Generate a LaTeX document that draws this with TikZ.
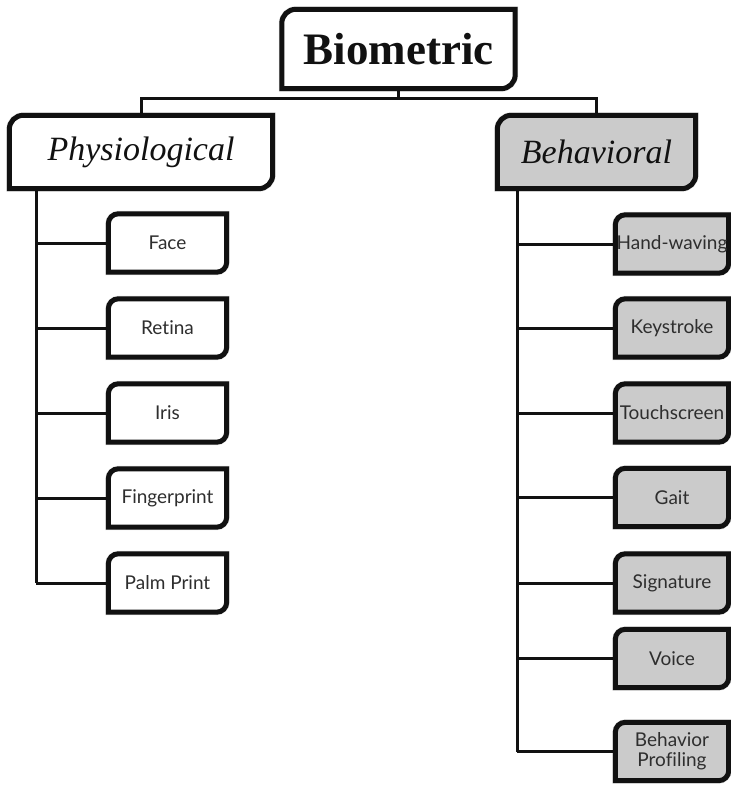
\documentclass[tikz,border=0pt]{standalone}
\usepackage{fontspec}
\setmainfont{Liberation Serif}
\newfontfamily\leaffont[Ligatures=NoCommon]{Lato}
\pgfdeclarelayer{back}
\pgfsetlayers{back,main}
\definecolor{boxgrey}{HTML}{CBCBCB}
\definecolor{labelgrey}{HTML}{2E2E2E}
\definecolor{ink}{HTML}{111111}

% box outline: square top-right / bottom-left, rounded top-left / bottom-right
\newcommand\diagpath[2]{%
  (#1.north east) -- ([yshift=#2]#1.south east)
    arc[start angle=0, end angle=-90, radius=#2] -- (#1.south west)
    -- ([yshift=-#2]#1.north west)
    arc[start angle=180, end angle=90, radius=#2] -- cycle}
\newcommand\diagbox[3]{%
  \path[boxshadow] [shift={(1.5,3)}] \diagpath{#1}{#2};
  \path[boxline, fill=#3] \diagpath{#1}{#2};}

\tikzset{
  topbox/.style={inner sep=0pt, minimum width=233pt, minimum height=79pt,
    font=\fontsize{45}{50}\selectfont\bfseries, text=ink},
  groupbox/.style={inner sep=0pt, minimum height=73pt,
    font=\fontsize{34}{40}\selectfont\itshape, text=ink},
  leafbox/.style={inner sep=0pt, minimum width=118pt, minimum height=58pt,
    font=\leaffont\fontsize{19}{20}\selectfont, text=labelgrey, align=center},
  rleafbox/.style={leafbox, minimum width=113pt},
  conn/.style={line width=3pt, draw=ink},
  boxline/.style={line width=5pt, draw=ink, line join=miter},
  boxshadow/.style={line width=6pt, draw=black, draw opacity=0.12},
}

\begin{document}
\begin{tikzpicture}[x=1pt, y=-1pt]
\useasboundingbox (0,0) rectangle (730,786);

% tree nodes
\node[topbox] (bio) at (398.5,49) {Biometric};
\node[groupbox, minimum width=263pt] (phys) at (141,152) {Physiological};
\node[groupbox, minimum width=198pt] (beh) at (596.5,152) {Behavioral};

\node[leafbox] (face)   at (167.5,243) {Face};
\node[leafbox] (retina) at (167.5,328) {Retina};
\node[leafbox] (iris)   at (167.5,413) {Iris};
\node[leafbox] (finger) at (167.5,498) {Fingerprint};
\node[leafbox] (palm)   at (167.5,583) {Palm Print};

\node[rleafbox] (hand)  at (672,244)   {Hand-waving};
\node[rleafbox] (key)   at (672,328)   {Keystroke};
\node[rleafbox] (touch) at (672,413)   {Touchscreen};
\node[rleafbox] (gait)  at (672,497.5) {Gait};
\node[rleafbox] (sign)  at (672,583)   {Signature};
\node[rleafbox] (voice) at (672,658.5) {Voice};
\node[rleafbox] (prof)  at (672,751.5) {Behavior\\Profiling};

% trunk and bar positions
\coordinate (hbar) at (0,99);
\coordinate (ltrunk) at (36,0);
\coordinate (rtrunk) at (517,0);

\begin{pgfonlayer}{back}
  % top bar
  \draw[conn] (bio.south) -- (bio.south |- hbar);
  \draw[conn] (phys.north) -- (phys.north |- hbar) -- (beh.north |- hbar) -- (beh.north);
  % left trunk and branches
  \draw[conn] (phys.south -| ltrunk) -- (palm.west -| ltrunk);
  \foreach \n in {face,retina,iris,finger,palm}
    \draw[conn] (\n.west -| ltrunk) -- (\n.west);
  % right trunk and branches
  \draw[conn] (beh.south -| rtrunk) -- (prof.west -| rtrunk);
  \foreach \n in {hand,key,touch,gait,sign,voice,prof}
    \draw[conn] (\n.west -| rtrunk) -- (\n.west);
  % boxes
  \diagbox{bio}{14pt}{white}
  \diagbox{phys}{14pt}{white}
  \diagbox{beh}{14pt}{boxgrey}
  \foreach \n in {face,retina,iris,finger,palm}
    {\diagbox{\n}{10pt}{white}}
  \foreach \n in {hand,key,touch,gait,sign,voice,prof}
    {\diagbox{\n}{10pt}{boxgrey}}
\end{pgfonlayer}
\end{tikzpicture}
\end{document}
